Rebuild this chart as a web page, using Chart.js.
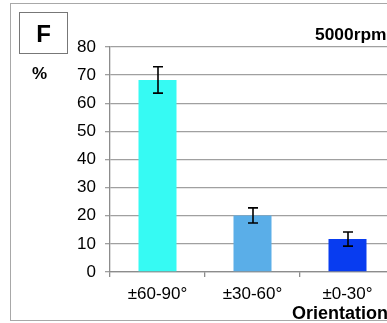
<!DOCTYPE html>
<html>
<head>
<meta charset="utf-8">
<script src="https://cdn.jsdelivr.net/npm/chart.js@4"></script>
<style>
  html, body { margin: 0; padding: 0; background: #fff; overflow: hidden; }
  #wrap { position: relative; width: 387px; height: 323px; overflow: hidden; font-family: "Liberation Sans", Arial, sans-serif; }
  #frame { position: absolute; left: 10px; top: 3px; width: 420px; height: 318px; border: 1.5px solid #a8a8a8; border-right: none; box-sizing: border-box; }
  #panel { position: absolute; left: 19px; top: 12px; width: 49px; height: 42px; border: 1.5px solid #777; box-sizing: border-box;
           font-weight: bold; font-size: 24px; text-align: center; line-height: 42px; color: #000; }
  #unit { position: absolute; left: 32px; top: 64px; font-weight: bold; font-size: 17px; color: #000; }
  #speed { position: absolute; left: 315px; top: 24px; font-weight: bold; font-size: 17.4px; color: #000; white-space: nowrap; }
  #xtitle { position: absolute; left: 292px; top: 303px; font-weight: bold; font-size: 18px; color: #000; white-space: nowrap; }
  canvas { position: absolute; left: 0; top: 0; }
</style>
</head>
<body>
<div id="wrap">
  <div id="frame"></div>
  <canvas id="grafico" width="400" height="323"></canvas>
  <div id="panel">F</div>
  <div id="unit">%</div>
  <div id="speed">5000rpm</div>
  <div id="xtitle">Orientation</div>
</div>
<script>
// orientacion de las fibras y su porcentaje a 5000 rpm
const categorias = ['±60-90°', '±30-60°', '±0-30°'];
const porcentajes = [68.3, 20.1, 11.7];
const errores = [4.7, 2.7, 2.5];
const colores = ['rgb(54, 250, 243)', 'rgb(90, 174, 232)', 'rgb(8, 60, 240)'];

// barras de error dibujadas con la escala y del grafico
const barrasError = {
  id: 'barrasError',
  afterDatasetsDraw(chart) {
    const ctx = chart.ctx;
    const y = chart.scales.y;
    const meta = chart.getDatasetMeta(0);
    ctx.save();
    ctx.strokeStyle = '#000';
    ctx.lineWidth = 1.6;
    meta.data.forEach((bar, i) => {
      const x = Math.round(bar.x);
      const alto = y.getPixelForValue(porcentajes[i] + errores[i]);
      const bajo = y.getPixelForValue(porcentajes[i] - errores[i]);
      ctx.beginPath();
      ctx.moveTo(x, alto); ctx.lineTo(x, bajo);
      ctx.moveTo(x - 5, alto); ctx.lineTo(x + 5, alto);
      ctx.moveTo(x - 5, bajo); ctx.lineTo(x + 5, bajo);
      ctx.stroke();
    });
    ctx.restore();
  }
};

Chart.defaults.font.family = '"Liberation Sans", Arial, sans-serif';
Chart.defaults.color = '#000';

new Chart(document.getElementById('grafico'), {
  type: 'bar',
  data: {
    labels: categorias,
    datasets: [{
      data: porcentajes,
      backgroundColor: colores,
      borderWidth: 0,
      barPercentage: 0.4,
      categoryPercentage: 1
    }]
  },
  options: {
    responsive: false,
    animation: false,
    layout: { padding: { top: 47, right: 5, left: 0, bottom: 0 } },
    plugins: { legend: { display: false }, tooltip: { enabled: false } },
    scales: {
      y: {
        min: 0,
        max: 80,
        ticks: { stepSize: 10, padding: 9, font: { size: 17 } },
        grid: { color: '#a0a0a0', lineWidth: 1.3, tickLength: 5 },
        border: { color: '#8c8c8c', width: 1.3 },
        afterFit(scale) { scale.width = 110; }
      },
      x: {
        ticks: { padding: 7, font: { size: 17 } },
        grid: { display: true, drawOnChartArea: false, offset: true, color: '#8c8c8c', lineWidth: 1.3, tickLength: 5 },
        border: { color: '#8c8c8c', width: 1.3 },
        afterFit(scale) { scale.height = 51; }
      }
    }
  },
  plugins: [barrasError]
});
</script>
</body>
</html>
